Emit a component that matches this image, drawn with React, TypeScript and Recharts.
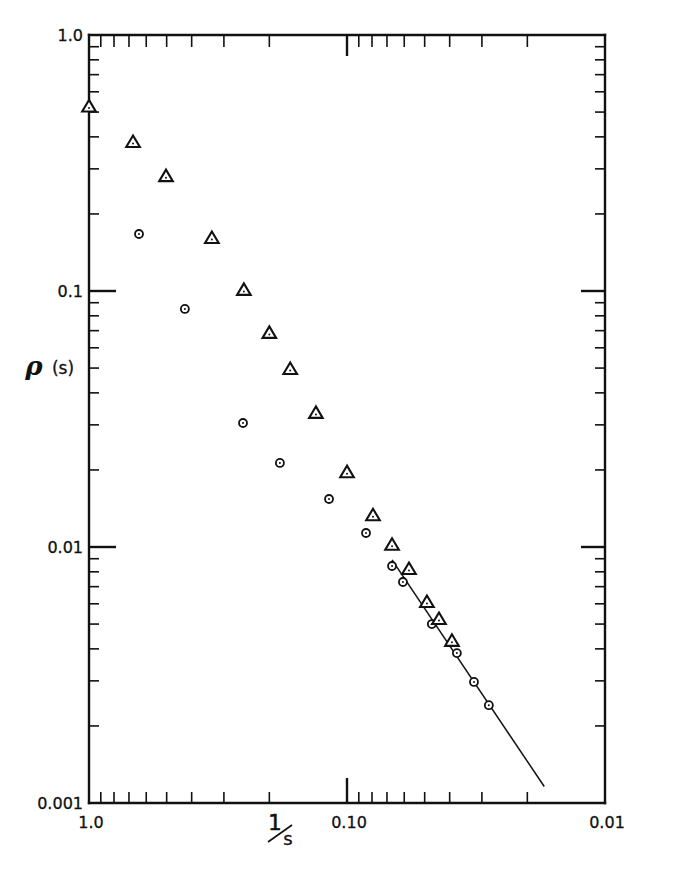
import React from 'react';
import { ScatterChart, Scatter, XAxis, YAxis } from 'recharts';

// Triangles (upper series)
const triangleX = [1.0, 0.675, 0.503, 0.334, 0.251, 0.2, 0.166, 0.132, 0.1, 0.0793, 0.0669, 0.0575, 0.049, 0.044, 0.0392];
const triangleY = [0.526, 0.382, 0.281, 0.161, 0.101, 0.0686, 0.0496, 0.0334, 0.0196, 0.0133, 0.0102, 0.0082, 0.0061, 0.00523, 0.0043];

// Circles (lower series)
const circleX = [0.64, 0.425, 0.253, 0.182, 0.1174, 0.0844, 0.0669, 0.0607, 0.0469, 0.0375, 0.0322, 0.0282];
const circleY = [0.167, 0.0851, 0.0305, 0.0213, 0.0154, 0.01134, 0.00843, 0.0073, 0.005, 0.00385, 0.00297, 0.00241];

// Fitted straight line (slope 3/2 on log-log)
const fitX = [0.0669, 0.0172];
const fitY = [0.0089, 0.00116];

const xTicks = [1, 0.9, 0.8, 0.7, 0.6, 0.5, 0.4, 0.3, 0.2, 0.1, 0.09, 0.08, 0.07, 0.06, 0.05, 0.04, 0.03, 0.02, 0.01];
const yTicks = [
  1, 0.9, 0.8, 0.7, 0.6, 0.5, 0.4, 0.3, 0.2,
  0.1, 0.09, 0.08, 0.07, 0.06, 0.05, 0.04, 0.03, 0.02,
  0.01, 0.009, 0.008, 0.007, 0.006, 0.005, 0.004, 0.003, 0.002, 0.001,
];
const xMajor = [1, 0.1, 0.01];
const xMajorLabels = ['1.0', '0.10', '0.01'];
const yMajor = [1, 0.1, 0.01, 0.001];
const yMajorLabels = ['1.0', '0.1', '0.01', '0.001'];

const zip = (xs: number[], ys: number[]) => xs.map((x, i) => ({ x, y: ys[i] }));
const triangleData = zip(triangleX, triangleY);
const circleData = zip(circleX, circleY);
const fitData = zip(fitX, fitY);

const FONT = '"DejaVu Sans", sans-serif';
const INK = '#111';

const majorLen: Record<string, number> = { bottom: 25, top: 21, left: 27, right: 24 };
const minorLen: Record<string, number> = { bottom: 11, top: 12, left: 10, right: 10 };

const makeTick = (side: 'bottom' | 'top' | 'left' | 'right') => (props: any) => {
  const { x, y, payload } = props;
  const v = payload.value;
  const isX = side === 'bottom' || side === 'top';
  const majors = isX ? xMajor : yMajor;
  const labels = isX ? xMajorLabels : yMajorLabels;
  const mi = majors.indexOf(v);
  const isEnd = mi === 0 || mi === majors.length - 1;
  const len = mi >= 0 ? majorLen[side] : minorLen[side];
  const sw = mi >= 0 ? 2.4 : 1.6;
  let line = null;
  if (!isEnd) {
    if (side === 'bottom') line = <line x1={x} y1={y} x2={x} y2={y - len} stroke={INK} strokeWidth={sw} />;
    if (side === 'top') line = <line x1={x} y1={y} x2={x} y2={y + len} stroke={INK} strokeWidth={sw} />;
    if (side === 'left') line = <line x1={x} y1={y} x2={x + len} y2={y} stroke={INK} strokeWidth={sw} />;
    if (side === 'right') line = <line x1={x} y1={y} x2={x - len} y2={y} stroke={INK} strokeWidth={sw} />;
  }
  let label = null;
  if (mi >= 0 && side === 'bottom') {
    label = (
      <text x={x + 2} y={y + 25} textAnchor="middle" fontFamily={FONT} fontSize={16} fill={INK} stroke={INK} strokeWidth={0.3}>
        {labels[mi]}
      </text>
    );
  }
  if (mi >= 0 && side === 'left') {
    label = (
      <text x={x - 6} y={y + 6} textAnchor="end" fontFamily={FONT} fontSize={16} fill={INK} stroke={INK} strokeWidth={0.3}>
        {labels[mi]}
      </text>
    );
  }
  return (
    <g>
      {line}
      {label}
    </g>
  );
};

const Triangle = (props: any) => {
  const { cx, cy } = props;
  if (cx == null || cy == null) return <g />;
  return (
    <g>
      <polygon
        points={`${cx},${cy - 6.5} ${cx - 6.8},${cy + 5} ${cx + 6.8},${cy + 5}`}
        fill="#fff"
        stroke={INK}
        strokeWidth={2.1}
        strokeLinejoin="miter"
      />
      <circle cx={cx} cy={cy + 1.5} r={1} fill={INK} />
    </g>
  );
};

const Ring = (props: any) => {
  const { cx, cy } = props;
  if (cx == null || cy == null) return <g />;
  return (
    <g>
      <circle cx={cx} cy={cy} r={4} fill="#fff" stroke={INK} strokeWidth={1.8} />
      <circle cx={cx} cy={cy} r={1} fill={INK} />
    </g>
  );
};

const Empty = () => <g />;

const XTitle = (props: any) => {
  const vb = props.viewBox || { x: 0, y: 0 };
  const cx = vb.x + 191;
  const by = vb.y;
  return (
    <g>
      <text x={cx - 5} y={by + 27} textAnchor="middle" fontFamily={FONT} fontSize={21} fill={INK} stroke={INK} strokeWidth={0.6}>
        1
      </text>
      <line x1={cx - 12} y1={by + 39} x2={cx + 12} y2={by + 22} stroke={INK} strokeWidth={1.7} />
      <text x={cx + 8} y={by + 42} textAnchor="middle" fontFamily={FONT} fontSize={18} fill={INK} stroke={INK} strokeWidth={0.3}>
        s
      </text>
    </g>
  );
};

const YTitle = (props: any) => {
  const vb = props.viewBox || { x: 0, y: 0 };
  const x0 = vb.x + (vb.width || 0);
  const y0 = vb.y;
  return (
    <g>
      <text x={x0 - 55} y={y0 + 340} textAnchor="middle" fontFamily='"DejaVu Serif", serif' fontStyle="italic" fontWeight="bold" fontSize={26} fill={INK}>
        ρ
      </text>
      <text x={x0 - 26} y={y0 + 339} textAnchor="middle" fontFamily={FONT} fontSize={17} fill={INK} stroke={INK} strokeWidth={0.3}>
        (s)
      </text>
    </g>
  );
};

const axisLine = { stroke: INK, strokeWidth: 2.4, strokeLinecap: 'square' as const };

export default function App() {
  return (
    <div style={{ position: 'absolute', left: 0, top: 0, width: 695, height: 873, background: '#fff' }}>
      <ScatterChart width={695} height={873} margin={{ top: 34, right: 89, bottom: 69, left: 88 }}>
        <XAxis
          xAxisId={0}
          type="number"
          dataKey="x"
          scale="log"
          domain={[0.01, 1]}
          reversed
          ticks={xTicks}
          interval={0}
          height={1}
          tickSize={0}
          tickMargin={0}
          tickLine={false}
          axisLine={axisLine}
          tick={makeTick('bottom')}
          label={<XTitle />}
        />
        <XAxis
          xAxisId="top"
          orientation="top"
          type="number"
          dataKey="x"
          scale="log"
          domain={[0.01, 1]}
          reversed
          ticks={xTicks}
          interval={0}
          height={1}
          tickSize={0}
          tickMargin={0}
          tickLine={false}
          axisLine={axisLine}
          tick={makeTick('top')}
        />
        <YAxis
          yAxisId={0}
          type="number"
          dataKey="y"
          scale="log"
          domain={[0.001, 1]}
          ticks={yTicks}
          interval={0}
          width={1}
          tickSize={0}
          tickMargin={0}
          tickLine={false}
          axisLine={axisLine}
          tick={makeTick('left')}
          label={<YTitle />}
        />
        <YAxis
          yAxisId="right"
          orientation="right"
          type="number"
          dataKey="y"
          scale="log"
          domain={[0.001, 1]}
          ticks={yTicks}
          interval={0}
          width={1}
          tickSize={0}
          tickMargin={0}
          tickLine={false}
          axisLine={axisLine}
          tick={makeTick('right')}
        />
        <Scatter
          xAxisId="top"
          yAxisId="right"
          data={fitData}
          line={{ stroke: INK, strokeWidth: 1.5 }}
          shape={<Empty />}
          isAnimationActive={false}
        />
        <Scatter data={circleData} shape={<Ring />} isAnimationActive={false} />
        <Scatter data={triangleData} shape={<Triangle />} isAnimationActive={false} />
      </ScatterChart>
    </div>
  );
}
